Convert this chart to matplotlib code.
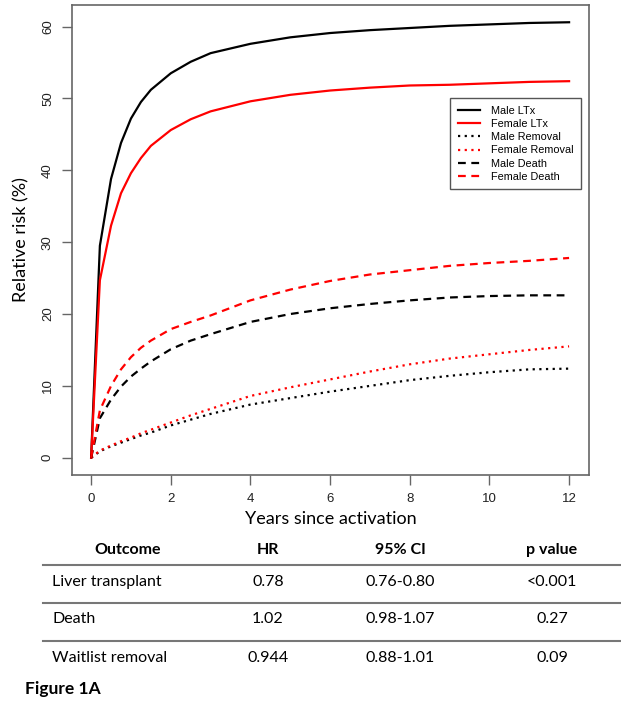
import matplotlib
matplotlib.use("Agg")
import matplotlib.pyplot as plt
from matplotlib.lines import Line2D

# years since activation
years = [0, 0.22, 0.5, 0.75, 1, 1.25, 1.5, 2, 2.5, 3, 4, 5, 6, 7, 8, 9, 10, 11, 12]

male_ltx = [0, 29.5, 38.8, 43.8, 47.2, 49.5, 51.2, 53.5, 55.1, 56.3, 57.6, 58.5, 59.1, 59.5, 59.8, 60.1, 60.3, 60.5, 60.6]
female_ltx = [0, 24.7, 32.3, 36.8, 39.6, 41.7, 43.4, 45.6, 47.1, 48.2, 49.6, 50.5, 51.1, 51.5, 51.8, 51.9, 52.1, 52.3, 52.4]
male_removal = [0, 0.9, 1.6, 2.1, 2.6, 3.1, 3.5, 4.5, 5.3, 6.1, 7.4, 8.3, 9.2, 10.0, 10.8, 11.4, 11.9, 12.3, 12.4]
female_removal = [0, 1.0, 1.7, 2.3, 2.8, 3.4, 3.9, 4.9, 5.9, 6.8, 8.6, 9.8, 10.9, 12.0, 13.0, 13.8, 14.4, 15.0, 15.5]
male_death = [0, 5.5, 8.1, 9.9, 11.3, 12.4, 13.4, 15.1, 16.3, 17.2, 18.9, 20.0, 20.8, 21.4, 21.9, 22.3, 22.5, 22.6, 22.6]
female_death = [0, 6.6, 10.0, 12.3, 14.0, 15.3, 16.3, 17.9, 18.9, 19.8, 21.9, 23.4, 24.6, 25.5, 26.1, 26.7, 27.1, 27.4, 27.8]

x_ticks = [0, 2, 4, 6, 8, 10, 12]
y_ticks = [0, 10, 20, 30, 40, 50, 60]

# table under the plot
table_header = ["Outcome", "HR", "95% CI", "p value"]
outcomes = ["Liver transplant", "Death", "Waitlist removal"]
hr = ["0.78", "1.02", "0.944"]
ci = ["0.76-0.80", "0.98-1.07", "0.88-1.01"]
p_values = ["<0.001", "0.27", "0.09"]

W, H = 621, 702
fig = plt.figure(figsize=(W / 100, H / 100), dpi=100)

def fx(px):
    return px / W

def fy(py):
    return 1 - py / H

ax = fig.add_axes([fx(72), fy(475), fx(589) - fx(72), fy(5) - fy(475)])

lw = 1.6
ax.plot(years, male_ltx, color="black", lw=lw, label="Male LTx")
ax.plot(years, female_ltx, color="red", lw=lw, label="Female LTx")
ax.plot(years, male_removal, color="black", lw=lw, dashes=(1, 2), label="Male Removal")
ax.plot(years, female_removal, color="red", lw=lw, dashes=(1, 2), label="Female Removal")
ax.plot(years, male_death, color="black", lw=lw, dashes=(3.5, 2.5), label="Male Death")
ax.plot(years, female_death, color="red", lw=lw, dashes=(3.5, 2.5), label="Female Death")

ax.set_xlim(-0.48, 12.5)
ax.set_ylim(-2.4, 63.0)
ax.set_xticks(x_ticks)
ax.set_yticks(y_ticks)
ax.set_xticklabels([str(t) for t in x_ticks], fontsize=9.5, family="Liberation Sans", color="#222222")
ax.set_yticklabels([str(t) for t in y_ticks], fontsize=9.5, family="Liberation Sans", color="#222222",
                   rotation=90, va="center")
ax.tick_params(length=7, width=1, color="#666666", pad=6)
for s in ax.spines.values():
    s.set_color("#666666")
    s.set_linewidth(1.2)

ax.set_ylabel("Relative risk (%)", fontsize=13, family="Lato", labelpad=9)
ax.set_xlabel("Years since activation", fontsize=13, family="Lato", labelpad=4)

leg = ax.legend(loc="upper left", bbox_to_anchor=(0.731, 0.802), borderaxespad=0,
                prop={"family": "Liberation Sans", "size": 7.8},
                frameon=True, fancybox=False, edgecolor="#555555", framealpha=1,
                handlelength=2.1, handletextpad=1.0, labelspacing=0.3, borderpad=0.7)
leg.get_frame().set_linewidth(1.0)

# table
tfont = "Lato"
col_x = [128, 268, 400, 552]
for i in range(4):
    fig.text(fx(col_x[i]), fy(550), table_header[i], ha="center", va="center",
             fontsize=11.5, family=tfont, weight="bold")

row_y = [582, 619, 658]
for i in range(3):
    fig.text(fx(52), fy(row_y[i]), outcomes[i], ha="left", va="center", fontsize=11.5, family=tfont)
    fig.text(fx(col_x[1]), fy(row_y[i]), hr[i], ha="center", va="center", fontsize=11.5, family=tfont)
    fig.text(fx(col_x[2]), fy(row_y[i]), ci[i], ha="center", va="center", fontsize=11.5, family=tfont)
    fig.text(fx(col_x[3]), fy(row_y[i]), p_values[i], ha="center", va="center", fontsize=11.5, family=tfont)

for ly in [565, 603, 641]:
    fig.add_artist(Line2D([fx(43), fx(621)], [fy(ly), fy(ly)], color="#777777", lw=1.5))

fig.text(fx(25), fy(689), "Figure 1A", ha="left", va="center", fontsize=12.5, family=tfont, weight="bold")

fig.savefig("out.png", dpi=100)
